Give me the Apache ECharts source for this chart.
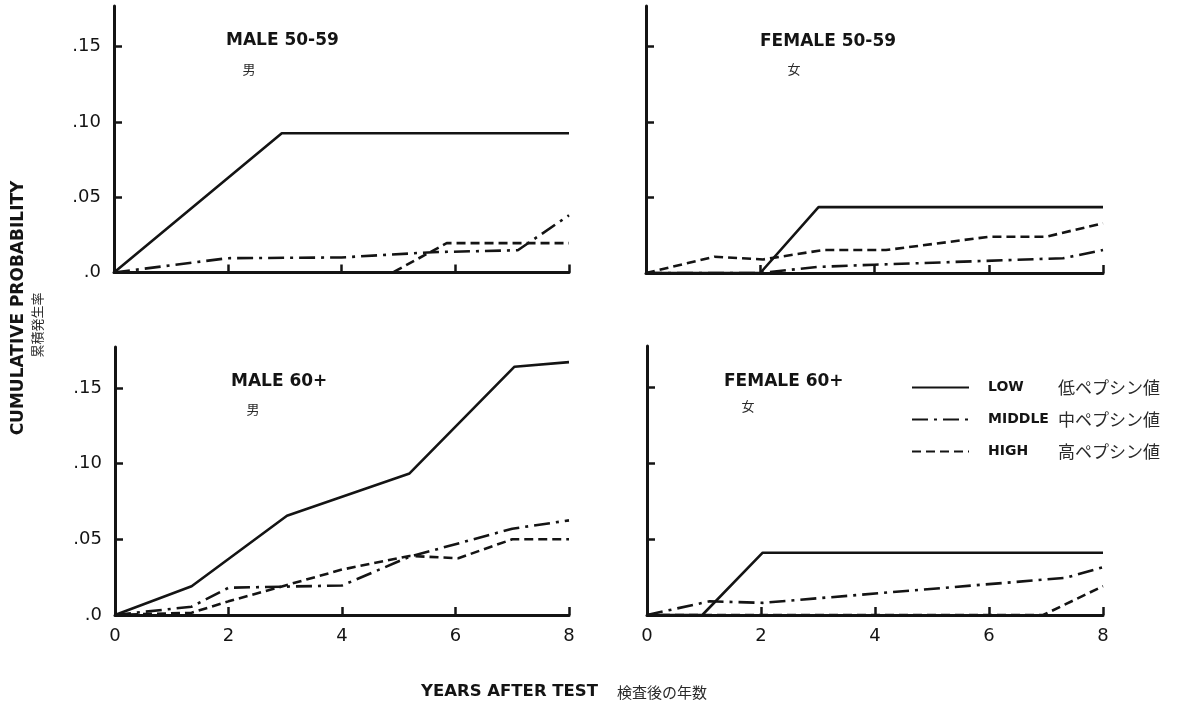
<!DOCTYPE html>
<html>
<head>
<meta charset="utf-8">
<script src="https://cdn.jsdelivr.net/npm/echarts@6/dist/echarts.min.js"></script>
<style>
html,body{margin:0;padding:0;background:#ffffff;}
#chart{width:1177px;height:704px;}
</style>
</head>
<body>
<div id="chart"></div>
<script>
// ---- tick values / labels ----
const yTickValues = [0, 0.05, 0.10, 0.15];
const yTickLabels = ['.0', '.05', '.10', '.15'];
const xTickLabels = ['0', '2', '4', '6', '8'];

// ---- series values: [years after test, cumulative probability] ----
// MALE 50-59
const m5059Low  = [[0,0],[2.95,0.0925],[8,0.0925]];
const m5059Mid  = [[0,0],[2,0.0095],[4,0.010],[5.6,0.0135],[7.1,0.0148],[8,0.038]];
const m5059High = [[0,0],[4.9,0],[5.85,0.0195],[8,0.0195]];
// FEMALE 50-59
const f5059Low  = [[0,0],[2,0],[3.02,0.0437],[8,0.0437]];
const f5059Mid  = [[0,0],[2,0],[3,0.004],[4,0.0055],[7.3,0.0098],[8,0.0152]];
const f5059High = [[0,0],[1.2,0.0108],[2.05,0.009],[3.1,0.0152],[4.2,0.0152],[6.0,0.024],[7.0,0.024],[8,0.033]];
// MALE 60+
const m60Low  = [[0,0],[1.35,0.019],[3.03,0.0655],[5.19,0.0935],[7.04,0.164],[8,0.167]];
const m60Mid  = [[0,0],[1.35,0.0055],[2,0.018],[4,0.0195],[5.19,0.0385],[7,0.057],[8,0.0625]];
const m60High = [[0,0],[1.35,0.0015],[2,0.009],[4,0.030],[5.19,0.039],[6.05,0.0375],[7,0.050],[8,0.050]];
// FEMALE 60+
const f60Low  = [[0,0],[0.97,0],[2.03,0.041],[8,0.041]];
const f60Mid  = [[0,0],[1.1,0.009],[2.03,0.008],[7.35,0.0245],[8,0.0315]];
const f60High = [[0,0],[6.95,0],[8,0.019]];

const levelNames = ['LOW', 'MIDDLE', 'HIGH'];
const levelNamesJp = ['低ペプシン値', '中ペプシン値', '高ペプシン値'];
const panelTitles = ['MALE 50-59', 'FEMALE 50-59', 'MALE 60+', 'FEMALE 60+'];
const panelTitlesJp = ['男', '女', '男', '女'];
const panelData = [
  [m5059Low, m5059Mid, m5059High],
  [f5059Low, f5059Mid, f5059High],
  [m60Low, m60Mid, m60High],
  [f60Low, f60Mid, f60High]
];

// ---- layout / style ----
const INK = '#141414';
const FONT = '"DejaVu Sans", sans-serif';
const FONT_JP = '"Noto Sans CJK JP", sans-serif';
const grids = [
  {left: 114, top: 6,   width: 455, height: 266.5},
  {left: 646, top: 6,   width: 457, height: 267},
  {left: 115, top: 347, width: 454, height: 268},
  {left: 647, top: 346, width: 456, height: 269}
];
const lineTypes = ['solid', [16, 6, 3, 6], [9, 5]];
const titlePos = [
  {t: [226, 41], j: [249, 69]},
  {t: [760, 42], j: [794, 69]},
  {t: [231, 382], j: [253, 409]},
  {t: [724, 382], j: [748, 406]}
];

const xAxes = [], yAxes = [], series = [], graphics = [];
grids.forEach((g, i) => {
  const showY = (i === 0 || i === 2);
  const showX = (i >= 2);
  xAxes.push({
    type: 'value', gridIndex: i, min: 0, max: 8, interval: 2,
    axisLine: {show: true, onZero: false, lineStyle: {color: INK, width: 3}},
    axisTick: {show: true, inside: true, length: 8, lineStyle: {color: INK, width: 2.5}},
    axisLabel: {show: showX, margin: 12, color: INK, fontSize: 18, fontFamily: FONT,
      formatter: v => xTickLabels[Math.round(v / 2)]},
    splitLine: {show: false}
  });
  yAxes.push({
    type: 'value', gridIndex: i, min: 0, max: 0.177,
    axisLine: {show: true, onZero: false, lineStyle: {color: INK, width: 3}},
    axisTick: {show: true, inside: true, length: 8, customValues: yTickValues,
      lineStyle: {color: INK, width: 2.5}},
    axisLabel: {show: showY, margin: 13, color: INK, fontSize: 18, fontFamily: FONT,
      customValues: yTickValues,
      formatter: v => {
        const k = yTickValues.findIndex(t => Math.abs(t - v) < 1e-6);
        return k >= 0 ? yTickLabels[k] : '';
      }},
    splitLine: {show: false}
  });
  panelData[i].forEach((d, s) => {
    series.push({
      name: levelNames[s], type: 'line', xAxisIndex: i, yAxisIndex: i,
      data: d, symbol: 'none', smooth: false, silent: true,
      itemStyle: {color: INK},
      lineStyle: {color: INK, width: 2.6, type: lineTypes[s]}
    });
  });
  graphics.push({type: 'text', x: titlePos[i].t[0], y: titlePos[i].t[1],
    style: {text: panelTitles[i], font: 'bold 17px ' + FONT, fill: INK,
      textAlign: 'left', textVerticalAlign: 'middle'}});
  graphics.push({type: 'text', x: titlePos[i].j[0], y: titlePos[i].j[1],
    style: {text: panelTitlesJp[i], font: '13px ' + FONT_JP, fill: '#2a2a2a',
      textAlign: 'center', textVerticalAlign: 'middle'}});
});

graphics.push({type: 'text', x: 19, y: 308, rotation: Math.PI / 2,
  style: {text: 'CUMULATIVE PROBABILITY', font: 'bold 17px ' + FONT, fill: INK,
    textAlign: 'center', textVerticalAlign: 'middle'}});
graphics.push({type: 'text', x: 37, y: 325, rotation: Math.PI / 2,
  style: {text: '累積発生率', font: '13px ' + FONT_JP, fill: '#2a2a2a',
    textAlign: 'center', textVerticalAlign: 'middle'}});
graphics.push({type: 'text', x: 421, y: 692,
  style: {text: 'YEARS AFTER TEST', font: 'bold 16.5px ' + FONT, fill: INK,
    textAlign: 'left', textVerticalAlign: 'middle'}});
graphics.push({type: 'text', x: 617, y: 692,
  style: {text: '検査後の年数', font: '15px ' + FONT_JP, fill: '#2a2a2a',
    textAlign: 'left', textVerticalAlign: 'middle'}});

const chart = echarts.init(document.getElementById('chart'), null, {renderer: 'canvas'});
chart.setOption({
  backgroundColor: '#ffffff',
  animation: false,
  grid: grids,
  xAxis: xAxes,
  yAxis: yAxes,
  legend: {
    data: levelNames, orient: 'vertical', left: 906, top: 374,
    itemWidth: 57, itemHeight: 16, itemGap: 15, selectedMode: false,
    itemStyle: {opacity: 0},
    formatter: name => '{en|' + name + '}{jp|' + levelNamesJp[levelNames.indexOf(name)] + '}',
    textStyle: {
      color: INK,
      rich: {
        en: {fontSize: 14, fontWeight: 'bold', fontFamily: FONT, color: INK, width: 70, padding: [0, 0, 0, 14]},
        jp: {fontSize: 17, fontFamily: FONT_JP, color: '#2a2a2a'}
      }
    }
  },
  series: series,
  graphic: {elements: graphics}
});
</script>
</body>
</html>
